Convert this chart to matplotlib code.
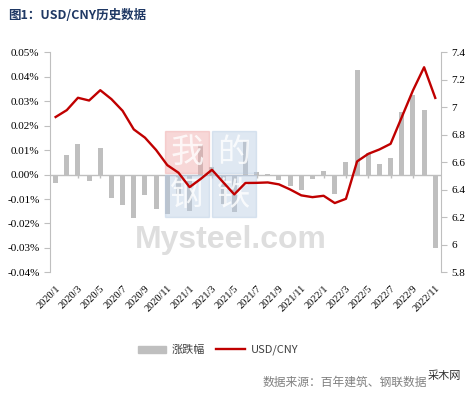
import matplotlib
matplotlib.use('Agg')
import matplotlib.pyplot as plt
from matplotlib.patches import Rectangle, Patch
from matplotlib.lines import Line2D

plt.rcParams['font.family'] = ['Noto Sans CJK SC', 'DejaVu Sans']

# monthly data 2020/1 - 2022/11
months = [f'{y}/{m}' for y in (2020, 2021, 2022) for m in range(1, 13)][:35]

# 涨跌幅 (as shown on the left axis, %)
change = [-0.0035, 0.0080, 0.0127, -0.0026, 0.0110, -0.0096, -0.0125, -0.0178,
          -0.0084, -0.0140, -0.0160, -0.0080, -0.0150, 0.0120, 0.0030, -0.0120,
          -0.0155, 0.0137, 0.0010, 0.0003, -0.0023, -0.0047, -0.0064, -0.0016,
          0.0014, -0.0081, 0.0050, 0.0426, 0.0089, 0.0042, 0.0068, 0.0256,
          0.0326, 0.0264, -0.0301]

# USD/CNY rate (right axis)
usdcny = [6.93, 6.98, 7.07, 7.05, 7.125, 7.06, 6.975, 6.84,
          6.78, 6.69, 6.58, 6.525, 6.42, 6.48, 6.546, 6.456,
          6.367, 6.45, 6.451, 6.454, 6.44, 6.403, 6.36, 6.347,
          6.357, 6.304, 6.335, 6.607, 6.662, 6.694, 6.735, 6.929,
          7.123, 7.292, 7.069]

bar_color = '#BFBFBF'
line_color = '#C00000'
axis_color = '#BFBFBF'

fig = plt.figure(figsize=(4.72, 3.97), dpi=100)
ax = fig.add_axes([0.106, 0.314, 0.828, 0.554])
ax2 = ax.twinx()

x = list(range(len(months)))
ax.bar(x, change, width=0.45, color=bar_color, zorder=2)
ax.axhline(0, color=axis_color, lw=1, zorder=1)
ax.vlines(x[::2], -0.0015, 0, color=axis_color, lw=1, zorder=1)

ax2.plot(x, usdcny, color=line_color, lw=1.7, zorder=3)

ax.set_xlim(-0.5, len(months) - 0.5)
ax.set_ylim(-0.04, 0.05)
ax.set_yticks([i / 100 for i in range(-4, 6)])
ax.set_yticklabels([f'{round(v, 2):.2f}%' for v in ax.get_yticks()])
ax2.set_ylim(5.8, 7.4)
ax2.set_yticks([5.8 + 0.2 * i for i in range(9)])
ax2.set_yticklabels([f'{round(v, 1):g}' for v in ax2.get_yticks()])

ax.set_xticks(x[::2])
ax.set_xticklabels(months[::2], rotation=45, ha='right', rotation_mode='anchor',
                   fontsize=7.5, family='Liberation Serif')
ax.tick_params(axis='x', length=0, pad=8)

for a in (ax, ax2):
    for s in ('top', 'bottom'):
        a.spines[s].set_visible(False)
    a.spines['left'].set_color(axis_color)
    a.spines['right'].set_color(axis_color)
    a.tick_params(axis='y', length=4, color=axis_color, labelsize=8)
    for lab in a.get_yticklabels():
        lab.set_family('Liberation Serif')
ax.spines['right'].set_visible(False)
ax2.spines['left'].set_visible(False)
ax.set_zorder(ax2.get_zorder() - 1)
ax2.patch.set_visible(False)

# title
fig.text(0.017, 0.962, '图1：USD/CNY历史数据', fontsize=9, fontweight='bold',
         color='#1F3864', va='center')

# watermark (above the bars, below the line)
W, H = 472, 397
wm = [('我', 165, 131, '#EFA8A8'), ('的', 212, 131, '#B8CCE4'),
      ('钢', 165, 175, '#B8CCE4'), ('铁', 212, 175, '#B8CCE4')]
for ch, px, py, c in wm:
    ax.add_patch(Rectangle((px / W, 1 - (py + 42) / H), 44 / W, 42 / H,
                           transform=fig.transFigure, color=c, alpha=0.45,
                           zorder=5, clip_on=False))
    ax.text((px + 22) / W, 1 - (py + 21) / H, ch, fontsize=24, color='white',
            alpha=0.8, ha='center', va='center', zorder=6,
            transform=fig.transFigure)
ax.text(135 / W, 1 - 240 / H, 'Mysteel.com', fontsize=23, fontweight='bold',
        family='Liberation Sans', color='#D0D0D0', alpha=0.7, va='center',
        zorder=6, transform=fig.transFigure)

# legend
handles = [Patch(color=bar_color, label='涨跌幅'),
           Line2D([], [], color=line_color, lw=1.7, label='USD/CNY')]
fig.legend(handles=handles, loc='center', bbox_to_anchor=(0.462, 0.118), ncol=2,
           frameon=False, fontsize=8, handlelength=2.6, handleheight=0.6,
           columnspacing=1.0, handletextpad=0.5, labelcolor='#404040')

fig.text(263 / W, 1 - 382 / H, '数据来源：百年建筑、钢联数据', fontsize=8.5,
         color='#808080', va='center')
fig.text(428 / W, 1 - 376 / H, '采木网', fontsize=8, color='#303030',
         va='center')

plt.savefig('out.png', dpi=100)
plt.close()
